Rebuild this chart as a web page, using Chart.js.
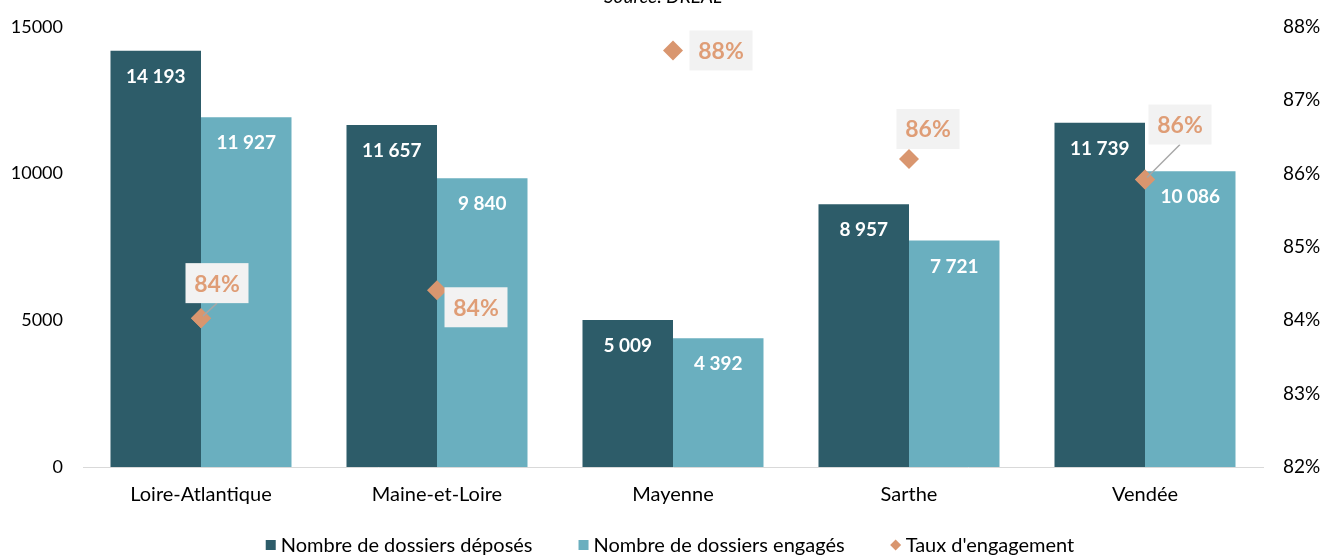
<!DOCTYPE html>
<html><head><meta charset="utf-8">
<script src="https://cdn.jsdelivr.net/npm/chart.js@4/dist/chart.umd.min.js"></script>
<style>html,body{margin:0;padding:0;background:#fff;overflow:hidden}#wrap{width:1325px;height:556px;position:relative}</style>
</head><body><div id="wrap"><canvas id="c" width="1325" height="556"></canvas></div>
<script>
const categories = ['Loire-Atlantique','Maine-et-Loire','Mayenne','Sarthe','Vendée'];
const deposes = [14193, 11657, 5009, 8957, 11739];
const engages = [11927, 9840, 4392, 7721, 10086];
const taux = [84.03, 84.41, 87.68, 86.20, 85.92];
const tauxLabels = ['84%','84%','88%','86%','86%'];
const leftTicks = [0, 5000, 10000, 15000];
const rightTicks = [82, 83, 84, 85, 86, 87, 88];

// label placement (pixel offsets of the label box centre relative to the point), style only
const labelOffsets = [[16,-35],[39,17],[48,0],[19,-30],[35,-55]];
const leaderLines = [true,false,false,false,true];

const FONT = "Lato, 'Open Sans', sans-serif";
const DARK = '#2D5C69', LIGHT = '#6AAFBF', ORANGE = '#D9966F', LBL = '#DF9D76';

const fmt = v => String(v).replace(/\B(?=(\d{3})+(?!\d))/g, ' ');

function diamond(ctx, x, y, r) {
  ctx.beginPath();
  ctx.moveTo(x, y - r); ctx.lineTo(x + r, y); ctx.lineTo(x, y + r); ctx.lineTo(x - r, y); ctx.closePath();
  ctx.fill();
}

const labelPlugin = {
  id: 'labels',
  afterDatasetsDraw(chart) {
    const ctx = chart.ctx;
    ctx.save();
    [0,1].forEach(di => {
      const meta = chart.getDatasetMeta(di);
      meta.data.forEach((bar, i) => {
        ctx.font = "bold 19px " + FONT;
        ctx.fillStyle = '#fff';
        ctx.textAlign = 'center';
        ctx.textBaseline = 'middle';
        ctx.fillText(fmt(chart.data.datasets[di].data[i]), bar.x, bar.y + 26);
      });
    });
    const meta = chart.getDatasetMeta(2);
    meta.data.forEach((pt, i) => {
      const [dx, dy] = labelOffsets[i];
      const cx = pt.x + dx, cy = pt.y + dy;
      const w = 63, h = 40;
      if (leaderLines[i]) {
        ctx.strokeStyle = '#A6A6A6';
        ctx.lineWidth = 1.5;
        ctx.beginPath();
        ctx.moveTo(pt.x + 2, pt.y - 2);
        ctx.lineTo(cx, cy + h / 2);
        ctx.stroke();
        ctx.fillStyle = ORANGE;
        diamond(ctx, pt.x, pt.y, 10);
        ctx.beginPath();
        ctx.moveTo(pt.x + 2, pt.y - 2);
        ctx.lineTo(pt.x + 6, pt.y - 6);
        ctx.stroke();
      }
      ctx.fillStyle = '#F2F2F2';
      ctx.fillRect(cx - w / 2, cy - h / 2, w, h);
      ctx.font = "bold 23px " + FONT;
      ctx.fillStyle = LBL;
      ctx.textAlign = 'center';
      ctx.textBaseline = 'middle';
      ctx.fillText(tauxLabels[i], cx, cy + 1);
    });
    ctx.restore();
  },
  afterDraw(chart) {
    const ctx = chart.ctx;
    ctx.save();
    ctx.font = "italic 19px " + FONT;
    ctx.fillStyle = '#000';
    ctx.textAlign = 'center';
    ctx.textBaseline = 'alphabetic';
    ctx.fillText('Source: DREAL', 663, 3);
    // legend
    ctx.font = "20px " + FONT;
    ctx.textBaseline = 'middle';
    ctx.textAlign = 'left';
    const ds = chart.data.datasets;
    const box = 10, gapBT = 5, gapItems = 46, y = 545;
    const widths = ds.map(d => box + gapBT + ctx.measureText(d.label).width);
    const total = widths.reduce((a, b) => a + b, 0) + gapItems * (ds.length - 1);
    let x = 670 - total / 2;
    ds.forEach((d, i) => {
      ctx.fillStyle = d.backgroundColor;
      if (d.type === 'line') diamond(ctx, x + box / 2, y, 5.5);
      else ctx.fillRect(x, y - box / 2, box, box);
      ctx.fillStyle = '#000';
      ctx.fillText(d.label, x + box + gapBT, y + 1);
      x += widths[i] + gapItems;
    });
    ctx.restore();
  }
};

const fitY = w => s => { s.width = w; s.paddingTop = 0; s.paddingBottom = 0; };

new Chart(document.getElementById('c'), {
  type: 'bar',
  data: {
    labels: categories,
    datasets: [
      { label: 'Nombre de dossiers déposés', data: deposes, backgroundColor: DARK, yAxisID: 'y', order: 1,
        categoryPercentage: 0.767, barPercentage: 1 },
      { label: 'Nombre de dossiers engagés', data: engages, backgroundColor: LIGHT, yAxisID: 'y', order: 2,
        categoryPercentage: 0.767, barPercentage: 1 },
      { type: 'line', label: "Taux d'engagement", data: taux, yAxisID: 'y1', order: 0, showLine: false,
        pointStyle: 'rectRot', pointRadius: 10, pointHoverRadius: 10, backgroundColor: ORANGE, borderColor: ORANGE, borderWidth: 0 }
    ]
  },
  options: {
    responsive: false,
    animation: false,
    devicePixelRatio: 1,
    layout: { padding: { top: 27, left: 0, right: 0, bottom: 49 } },
    plugins: {
      tooltip: { enabled: false },
      legend: { display: false }
    },
    scales: {
      x: {
        grid: { display: false, drawTicks: false },
        border: { display: true, color: '#D9D9D9', width: 1 },
        afterFit: s => { s.height = 40; },
        ticks: { color: '#000', font: { family: FONT, size: 20 }, padding: 16, maxRotation: 0 }
      },
      y: {
        position: 'left', min: 0, max: 15000,
        grid: { display: false, drawTicks: false },
        border: { display: false },
        afterBuildTicks: s => { s.ticks = leftTicks.map(v => ({ value: v })); },
        afterFit: fitY(83),
        ticks: { color: '#000', font: { family: FONT, size: 18 }, padding: 20, callback: v => String(v) }
      },
      y1: {
        position: 'right', min: 82, max: 88,
        grid: { display: false, drawTicks: false },
        border: { display: false },
        afterBuildTicks: s => { s.ticks = rightTicks.map(v => ({ value: v })); },
        afterFit: fitY(62),
        ticks: { color: '#000', font: { family: FONT, size: 19 }, padding: 20, callback: v => v + '%' }
      }
    }
  },
  plugins: [labelPlugin]
});
</script></body></html>
